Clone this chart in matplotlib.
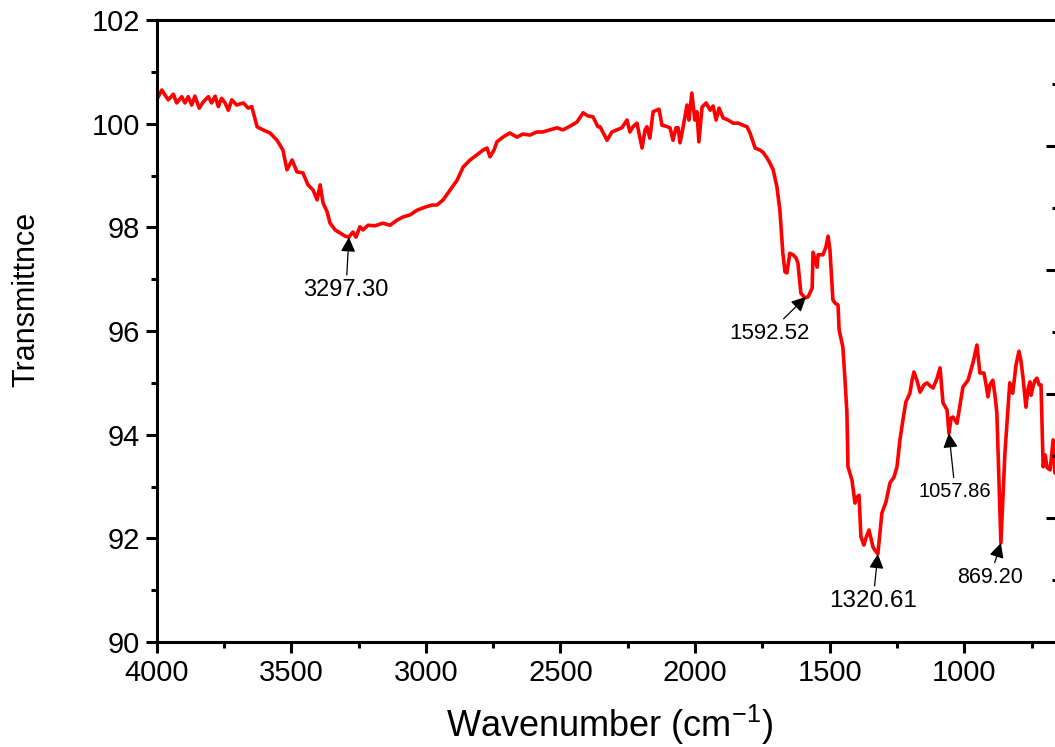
import matplotlib
matplotlib.use("Agg")
import matplotlib.pyplot as plt
from matplotlib.ticker import MultipleLocator, FixedLocator, NullFormatter

plt.rcParams['font.family'] = ['Liberation Sans', 'DejaVu Sans']
plt.rcParams['mathtext.fontset'] = 'custom'
plt.rcParams['mathtext.rm'] = 'Liberation Sans'
plt.rcParams['mathtext.it'] = 'Liberation Sans:italic'
plt.rcParams['mathtext.default'] = 'regular'

# ---- data ----
wavenumber = [4000, 3981, 3969, 3957, 3938, 3926, 3907, 3895, 3883, 3870, 3858, 3842, 3827, 3808,
              3796, 3783, 3771, 3759, 3746, 3734, 3721, 3703, 3678, 3660, 3647, 3627, 3605, 3579,
              3553, 3531, 3516, 3497, 3479, 3457, 3438, 3419, 3404, 3393, 3382, 3367, 3356, 3337,
              3319, 3300, 3286, 3271, 3260, 3245, 3234, 3215, 3189, 3160, 3133, 3107, 3085, 3059,
              3033, 3003, 2977, 2959, 2936, 2910, 2884, 2862, 2836, 2810, 2788, 2773, 2762, 2747,
              2736, 2714, 2688, 2662, 2640, 2613, 2588, 2566, 2539, 2513, 2491, 2465, 2439, 2416,
              2398, 2379, 2361, 2353, 2327, 2309, 2290, 2272, 2253, 2242, 2231, 2216, 2197, 2186,
              2179, 2168, 2156, 2134, 2123, 2108, 2093, 2082, 2071, 2063, 2056, 2045, 2030, 2023,
              2012, 2001, 1993, 1986, 1974, 1959, 1944, 1933, 1922, 1911, 1896, 1877, 1859, 1840,
              1822, 1807, 1796, 1777, 1759, 1748, 1733, 1722, 1710, 1696, 1685, 1674, 1666, 1659,
              1648, 1636, 1625, 1618, 1607, 1592, 1580, 1565, 1562, 1547, 1543, 1525, 1514, 1506,
              1499, 1488, 1480, 1469, 1465, 1451, 1443, 1436, 1432, 1417, 1406, 1399, 1391, 1384,
              1373, 1365, 1354, 1339, 1332, 1321, 1306, 1291, 1276, 1261, 1250, 1239, 1228, 1217,
              1202, 1194, 1187, 1176, 1164, 1150, 1138, 1127, 1116, 1101, 1090, 1079, 1064, 1057,
              1049, 1042, 1027, 1016, 1005, 986, 968, 953, 942, 927, 919, 912, 905, 894, 886, 879,
              864, 857, 849, 838, 831, 820, 808, 797, 790, 782, 771, 764, 756, 752, 745, 737, 730,
              722, 715, 707, 700, 692, 681, 670, 663, 650, 640]
transmittance = [100.46, 100.65, 100.55, 100.46, 100.57, 100.40, 100.52, 100.40, 100.52, 100.36,
                 100.53, 100.30, 100.42, 100.52, 100.40, 100.53, 100.33, 100.49, 100.40, 100.26,
                 100.46, 100.36, 100.40, 100.30, 100.33, 99.94, 99.88, 99.82, 99.68, 99.49, 99.11,
                 99.30, 99.07, 99.05, 98.82, 98.72, 98.53, 98.82, 98.47, 98.30, 98.08, 97.95, 97.89,
                 97.83, 97.81, 97.91, 97.81, 98.01, 97.95, 98.04, 98.03, 98.08, 98.04, 98.14, 98.20,
                 98.24, 98.33, 98.39, 98.43, 98.43, 98.53, 98.72, 98.91, 99.16, 99.30, 99.40, 99.49,
                 99.53, 99.36, 99.49, 99.65, 99.74, 99.82, 99.74, 99.80, 99.78, 99.84, 99.84, 99.88,
                 99.92, 99.88, 99.95, 100.03, 100.21, 100.15, 100.13, 99.94, 99.94, 99.68, 99.84,
                 99.88, 99.92, 100.07, 99.84, 99.94, 100.01, 99.53, 99.88, 99.94, 99.72, 100.23,
                 100.28, 99.97, 99.95, 99.92, 99.68, 99.92, 99.92, 99.63, 99.92, 100.36, 100.07,
                 100.59, 100.07, 100.23, 99.65, 100.32, 100.40, 100.26, 100.34, 100.07, 100.30,
                 100.11, 100.07, 100.01, 100.01, 99.97, 99.94, 99.82, 99.53, 99.49, 99.45, 99.34,
                 99.24, 99.11, 98.78, 98.33, 97.50, 97.14, 97.12, 97.50, 97.47, 97.41, 97.31, 96.73,
                 96.64, 96.66, 96.83, 97.52, 97.23, 97.47, 97.47, 97.62, 97.83, 97.56, 96.60, 96.54,
                 96.50, 96.02, 95.69, 95.05, 94.42, 93.38, 93.12, 92.68, 92.79, 92.83, 92.03, 91.87,
                 92.01, 92.16, 91.83, 91.77, 91.70, 92.49, 92.70, 93.07, 93.18, 93.38, 93.90, 94.28,
                 94.63, 94.80, 95.05, 95.21, 95.05, 94.82, 94.96, 95.00, 94.94, 94.90, 95.09, 95.29,
                 94.61, 94.48, 94.03, 94.32, 94.34, 94.22, 94.57, 94.92, 95.05, 95.38, 95.73, 95.19,
                 95.19, 94.96, 94.73, 94.96, 95.05, 94.76, 94.42, 91.91, 92.74, 93.65, 94.48, 95.00,
                 94.80, 95.34, 95.61, 95.44, 95.11, 94.53, 94.86, 95.02, 94.76, 94.92, 95.05, 95.09,
                 94.96, 94.96, 93.38, 93.61, 93.36, 93.32, 93.90, 93.26, 93.45, 93.40]

peak_labels = ["3297.30", "1592.52", "1320.61", "1057.86", "869.20"]
peak_wn = [3286, 1588, 1321, 1057, 864]
peak_t = [97.81, 96.66, 91.70, 94.03, 91.91]

x_ticks = [4000, 3500, 3000, 2500, 2000, 1500, 1000]
y_ticks = [90, 92, 94, 96, 98, 100, 102]

# ---- layout ----
W, H = 1055, 747
fig = plt.figure(figsize=(W / 100, H / 100), dpi=100)
ax_left, ax_right, ax_top, ax_bot = 156.7, 1125.8, 20, 642
ax = fig.add_axes([ax_left / W, (H - ax_bot) / H, (ax_right - ax_left) / W, (ax_bot - ax_top) / H])

ax.plot(wavenumber, transmittance, color='#ff0000', lw=2.6, solid_joinstyle='round')

ax.set_xlim(4000, 400)
ax.set_ylim(90, 102)
ax.xaxis.set_major_locator(FixedLocator(x_ticks))
ax.xaxis.set_minor_locator(MultipleLocator(250))
ax.yaxis.set_major_locator(FixedLocator(y_ticks))
ax.yaxis.set_minor_locator(MultipleLocator(1))

for s in ax.spines.values():
    s.set_linewidth(2.2)
ax.tick_params(which='major', direction='out', length=8, width=2.2, labelsize=21, pad=4)
ax.tick_params(which='minor', direction='out', length=4.3, width=2.2)
ax.tick_params(top=False, right=False)

ax.set_xlabel('Wavenumber (cm$^{-1}$)', fontsize=26)
ax.xaxis.set_label_coords((610 - ax_left) / (ax_right - ax_left), -0.098)
ax.set_ylabel('Transmittnce', fontsize=22)
ax.yaxis.set_label_coords(-0.119, 0.55)

# annotation text centres (layout)
text_pos = [(3297, 96.79), (1725, 95.96), (1339, 90.79), (1034, 92.91), (904, 91.25)]
text_size = [17, 16, 17.5, 14.5, 15.5]
for lab, xw, yt, tp, fs in zip(peak_labels, peak_wn, peak_t, text_pos, text_size):
    ax.annotate(lab, xy=(xw, yt), xytext=tp, ha='center', va='center', fontsize=fs,
                arrowprops=dict(arrowstyle='-|>', color='black', lw=0.9,
                                mutation_scale=22, shrinkA=1, shrinkB=0))

# neighbouring panel's axis ticks at the cropped right edge
ax2 = fig.add_axes([1056 / W, (H - ax_bot) / H, 0.05, (ax_bot - ax_top) / H])
ax2.set_ylim(0, (ax_bot - ax_top) / 124)
ax2.yaxis.set_major_locator(FixedLocator([1, 2, 3, 4]))
ax2.yaxis.set_minor_locator(FixedLocator([0.5, 1.5, 2.5, 3.5, 4.5]))
ax2.yaxis.set_major_formatter(NullFormatter())
ax2.set_xticks([])
for s in ax2.spines.values():
    s.set_visible(False)
ax2.patch.set_visible(False)
ax2.tick_params(axis='y', which='major', direction='out', length=7.5, width=2.2)
ax2.tick_params(axis='y', which='minor', direction='out', length=3, width=2.2)

fig.savefig('out.png', dpi=100)
